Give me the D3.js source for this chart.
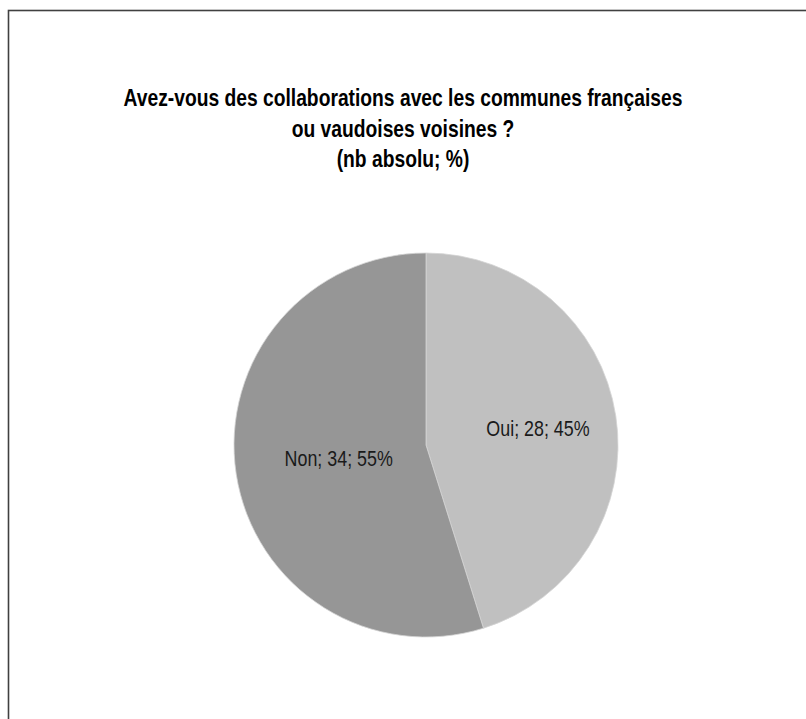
<!DOCTYPE html>
<html>
<head>
<meta charset="utf-8">
<script src="https://cdn.jsdelivr.net/npm/d3@7"></script>
<style>
  html, body { margin: 0; padding: 0; background: #fff; }
  svg { display: block; }
</style>
</head>
<body>
<svg id="chart" width="806" height="719"></svg>
<script>
// Answers to the survey question
const categories = ["Oui", "Non"];
const counts = [28, 34];
const percents = [45, 55];
const sliceColors = ["#c0c0c0", "#969696"];
const titleLines = [
  "Avez-vous des collaborations avec les communes françaises",
  "ou vaudoises voisines ?",
  "(nb absolu; %)"
];

const svg = d3.select("#chart");
const fontFamily = "'Liberation Sans Narrow', 'Arial Narrow', 'Liberation Sans', Arial, sans-serif";
// Horizontal squeeze giving a narrow face from the regular sans
const narrow = 0.82;

// Outer frame
svg.append("rect")
  .attr("x", 8.5).attr("y", 10.5)
  .attr("width", 810).attr("height", 730)
  .attr("fill", "#fff")
  .attr("stroke", "#404040")
  .attr("stroke-width", 1.6);

// Title, one centred line per entry
const titleX = 403;
const titleY0 = 106, titleStep = 30.5;
titleLines.forEach((t, i) => {
  svg.append("g")
    .attr("transform", `translate(${titleX},${titleY0 + i * titleStep}) scale(${narrow},1)`)
    .append("text")
    .attr("text-anchor", "middle")
    .attr("font-family", fontFamily)
    .attr("font-weight", "bold")
    .attr("font-size", 23.5)
    .attr("fill", "#000")
    .text(t);
});

// Pie
const cx = 426, cy = 445, R = 192;
const data = categories.map((c, i) => ({ cat: c, n: counts[i], pct: percents[i], color: sliceColors[i] }));
const pie = d3.pie().value(d => d.n).sort(null);
const arc = d3.arc().innerRadius(0).outerRadius(R);
const arcs = pie(data);

const g = svg.append("g").attr("transform", `translate(${cx},${cy})`);
g.selectAll("path")
  .data(arcs)
  .join("path")
  .attr("d", arc)
  .attr("fill", d => d.data.color)
  .attr("stroke", "#d4d4d4")
  .attr("stroke-width", 0.8);

// Slice labels, placed along each slice's bisector
const labelRadius = { Oui: 0.59, Non: 0.46 };
g.selectAll("g.lbl")
  .data(arcs)
  .join("g")
  .attr("class", "lbl")
  .attr("transform", d => {
    const a = (d.startAngle + d.endAngle) / 2;
    const r = R * labelRadius[d.data.cat];
    return `translate(${r * Math.sin(a)},${-r * Math.cos(a)}) scale(${narrow},1)`;
  })
  .append("text")
  .attr("text-anchor", "middle")
  .attr("dy", "0.36em")
  .attr("font-family", fontFamily)
  .attr("font-size", 21.8)
  .attr("fill", "#1a1a1a")
  .text(d => `${d.data.cat}; ${d.data.n}; ${d.data.pct}%`);
</script>
</body>
</html>
